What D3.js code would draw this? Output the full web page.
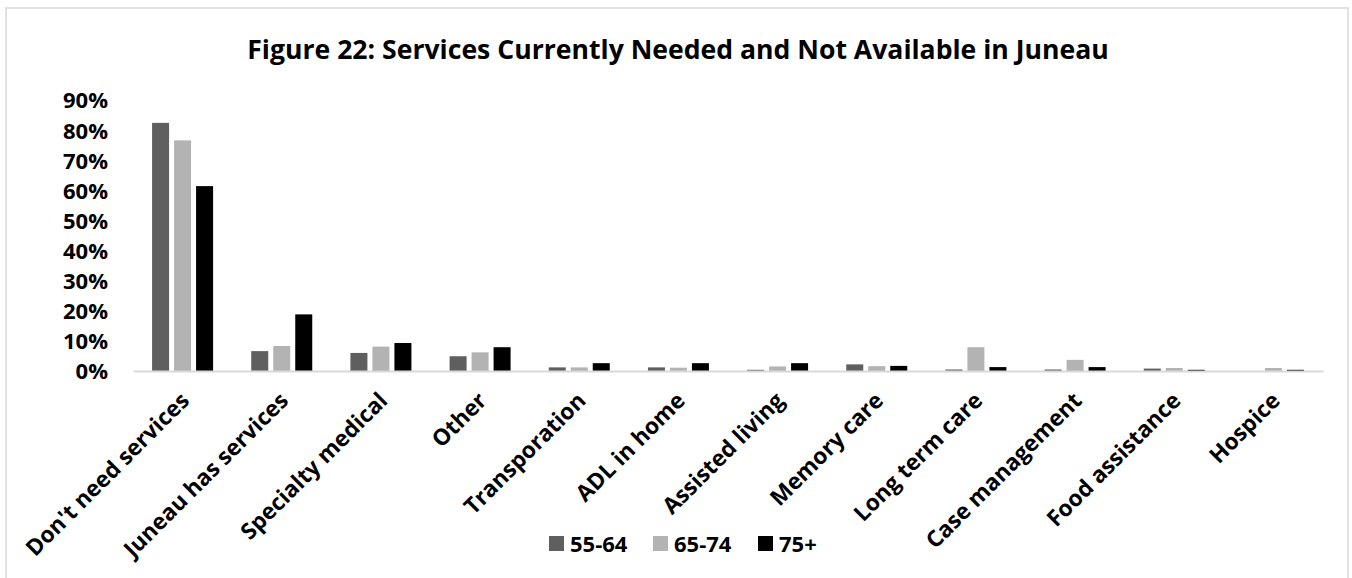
<!DOCTYPE html>
<html>
<head>
<meta charset="utf-8">
<script src="https://cdn.jsdelivr.net/npm/d3@7"></script>
<style>
  html, body { margin: 0; padding: 0; background: #fff; }
  svg { display: block; }
  text { font-family: "Open Sans", sans-serif; font-weight: bold; fill: #000; }
</style>
</head>
<body>
<svg id="chart" width="1352" height="578"></svg>
<script>
const titleText = "Figure 22: Services Currently Needed and Not Available in Juneau";
const categories = ["Don't need services", "Juneau has services", "Specialty medical", "Other",
  "Transporation", "ADL in home", "Assisted living", "Memory care", "Long term care",
  "Case management", "Food assistance", "Hospice"];
const seriesNames = ["55-64", "65-74", "75+"];
const seriesColors = ["#5f5f5f", "#b3b3b3", "#000000"];
const values5564 = [82.4, 6.6, 6.0, 4.9, 1.2, 1.2, 0.4, 2.2, 0.5, 0.5, 0.8, 0.0];
const values6574 = [76.6, 8.3, 8.1, 6.2, 1.2, 1.1, 1.5, 1.6, 7.9, 3.7, 1.0, 1.0];
const values75p  = [61.4, 18.8, 9.3, 7.9, 2.6, 2.6, 2.6, 1.7, 1.3, 1.3, 0.4, 0.4];
const yTicks = [0, 10, 20, 30, 40, 50, 60, 70, 80, 90];

const seriesValues = [values5564, values6574, values75p];
const svg = d3.select("#chart");

// chart frame
svg.append("rect").attr("x", 6).attr("y", 8).attr("width", 1342).attr("height", 580)
  .attr("fill", "none").attr("stroke", "#d9d9d9").attr("stroke-width", 1.5);

const x0 = d3.scaleBand().domain(categories).range([133, 1323])
  .paddingInner(0.3345).paddingOuter(0.3345 / 2);
const x1 = d3.scaleBand().domain(seriesNames).range([0, x0.bandwidth()])
  .paddingInner(0.227).paddingOuter(0.1135);
const y = d3.scaleLinear().domain([0, 90]).range([371, 100]);
const color = d3.scaleOrdinal().domain(seriesNames).range(seriesColors);

// title
svg.append("text").attr("x", 678).attr("y", 59).attr("text-anchor", "middle")
  .style("font-size", "26.6px").text(titleText);

// y axis
const yAxis = d3.axisLeft(y).tickValues(yTicks).tickFormat(d => d + "%").tickSize(0).tickPadding(0);
const yg = svg.append("g").attr("transform", "translate(108,0)").call(yAxis);
yg.select(".domain").remove();
yg.selectAll("text").style("font-size", "22px").attr("fill", "#000")
  .style("font-family", "'Open Sans', sans-serif").style("font-weight", "bold").attr("dy", "0.36em");

// bars
const groups = svg.append("g").selectAll("g").data(categories).join("g")
  .attr("transform", d => `translate(${x0(d)},0)`);
groups.selectAll("rect")
  .data((d, i) => seriesNames.map((s, k) => ({ s, v: seriesValues[k][i] })))
  .join("rect")
  .attr("x", d => x1(d.s))
  .attr("width", x1.bandwidth())
  .attr("y", d => y(d.v))
  .attr("height", d => y(0) - y(d.v))
  .attr("fill", d => color(d.s));

// x axis
const xAxis = d3.axisBottom(x0).tickSize(0).tickPadding(0);
const xg = svg.append("g").attr("transform", `translate(0,${y(0)})`).call(xAxis);
xg.select(".domain").attr("stroke", "#d9d9d9").attr("stroke-width", 2);
xg.selectAll("text")
  .style("font-size", "22.6px").style("font-family", "'Open Sans', sans-serif").style("font-weight", "bold")
  .attr("fill", "#000")
  .attr("text-anchor", "end")
  .attr("y", 0).attr("dy", 0)
  .attr("transform", "translate(8,31) rotate(-45)");

// legend
const legendX = [549, 653, 758];
const lg = svg.append("g").selectAll("g").data(seriesNames).join("g")
  .attr("transform", (d, i) => `translate(${legendX[i]},536)`);
lg.append("rect").attr("width", 15).attr("height", 15).attr("fill", d => color(d));
lg.append("text").attr("x", 21).attr("y", 16).style("font-size", "22px").text(d => d);
</script>
</body>
</html>
